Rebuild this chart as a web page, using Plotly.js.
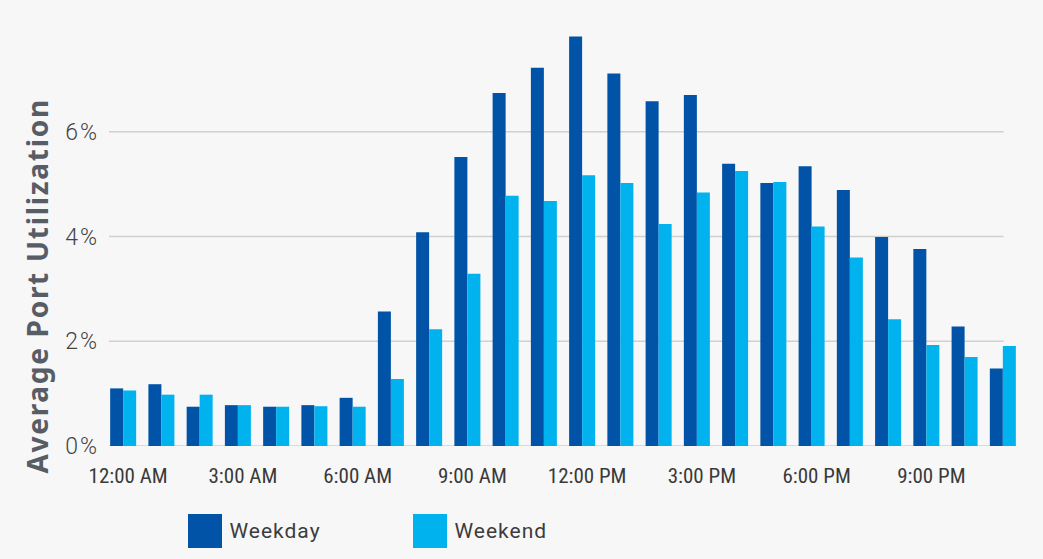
<!DOCTYPE html>
<html>
<head>
<meta charset="utf-8">
<script src="https://cdn.plot.ly/plotly-3.0.1.min.js"></script>
<style>
  html, body { margin: 0; padding: 0; background: #f7f7f7; }
  #chart { width: 1043px; height: 559px; }
</style>
</head>
<body>
<div id="chart"></div>
<script>
// ---- data ----
const hours = [
  "12:00 AM","1:00 AM","2:00 AM","3:00 AM","4:00 AM","5:00 AM",
  "6:00 AM","7:00 AM","8:00 AM","9:00 AM","10:00 AM","11:00 AM",
  "12:00 PM","1:00 PM","2:00 PM","3:00 PM","4:00 PM","5:00 PM",
  "6:00 PM","7:00 PM","8:00 PM","9:00 PM","10:00 PM","11:00 PM"
];
const weekday = [1.10, 1.18, 0.75, 0.78, 0.75, 0.78, 0.92, 2.57, 4.08, 5.52, 6.74, 7.22,
                 7.82, 7.11, 6.58, 6.70, 5.39, 5.02, 5.34, 4.89, 3.99, 3.76, 2.28, 1.48];
const weekend = [1.06, 0.98, 0.98, 0.78, 0.75, 0.76, 0.75, 1.28, 2.23, 3.29, 4.78, 4.68,
                 5.17, 5.02, 4.24, 4.84, 5.25, 5.04, 4.19, 3.60, 2.42, 1.93, 1.70, 1.91];
const xTickLabels = ["12:00 AM","3:00 AM","6:00 AM","9:00 AM","12:00 PM","3:00 PM","6:00 PM","9:00 PM"];
const yTickValues = [0, 2, 4, 6];
const yTickLabels = ["0%", "2%", "4%", "6%"];
const seriesNames = ["Weekday", "Weekend"];
const yTitle = "Average Port Utilization";

// ---- style ----
const C_WEEKDAY = "#0053a6";
const C_WEEKEND = "#00b3ee";
const BG = "#f7f7f7";
const GRID = "#d0d0d0";
const GRID_END = (1003.6 - 109) / (1017 - 109); // gridlines stop at last category centre

const traces = [
  { type: "bar", name: seriesNames[0], x: hours, y: weekday,
    marker: { color: C_WEEKDAY, line: { width: 0 } }, showlegend: false },
  { type: "bar", name: seriesNames[1], x: hours, y: weekend,
    marker: { color: C_WEEKEND, line: { width: 0 } }, showlegend: false }
];

const gridShapes = yTickValues.map(function (v) {
  return { type: "line", xref: "paper", yref: "y", x0: 0, x1: GRID_END, y0: v, y1: v,
           line: { color: GRID, width: 1.5 }, layer: "below" };
});

const pw = 1017 - 109, ph = 446 - 26.8;
function px(x) { return (x - 109) / pw; }
function py(y) { return (446 - y) / ph; }

const legendShapes = [
  { type: "rect", xref: "paper", yref: "paper", x0: px(188), x1: px(222), y0: py(548), y1: py(514),
    fillcolor: C_WEEKDAY, line: { width: 0 } },
  { type: "rect", xref: "paper", yref: "paper", x0: px(413), x1: px(447), y0: py(548), y1: py(514),
    fillcolor: C_WEEKEND, line: { width: 0 } }
];
const textFont = { family: "Roboto", size: 21, color: "#3c3c3c" };
const annotations = [
  { xref: "paper", yref: "paper", x: px(231), y: py(531), xanchor: "left", yanchor: "middle",
    text: seriesNames[0], showarrow: false, font: textFont },
  { xref: "paper", yref: "paper", x: px(456), y: py(531), xanchor: "left", yanchor: "middle",
    text: seriesNames[1], showarrow: false, font: textFont },
  { xref: "paper", yref: "paper", x: px(37), y: py(286), xanchor: "center", yanchor: "middle",
    textangle: -90, text: yTitle, showarrow: false,
    font: { family: "Noto Sans", weight: 700, size: 28, color: "#575d66" } }
];

const layout = {
  width: 1043, height: 559,
  paper_bgcolor: BG, plot_bgcolor: BG,
  margin: { l: 109, r: 1043 - 1017, t: 26.8, b: 113, pad: 0 },
  barmode: "group", bargap: 0.32, bargroupgap: 0,
  showlegend: false,
  xaxis: {
    type: "category",
    range: [-0.37, 23.37],
    tickmode: "array", tickvals: xTickLabels, ticktext: xTickLabels,
    showgrid: false, zeroline: false, showline: false, ticks: "",
    tickfont: { family: "Liberation Sans Narrow, Roboto Condensed, Roboto", size: 21, color: "#3a3a3a" },
    ticklabelstandoff: 15, ticklabelshift: 5
  },
  yaxis: {
    range: [0, 8],
    tickmode: "array", tickvals: yTickValues, ticktext: yTickLabels,
    showgrid: false, zeroline: false, showline: false, ticks: "",
    tickfont: { family: "Roboto", weight: 300, size: 23, color: "#444444" },
    ticklabelstandoff: 9
  },
  shapes: gridShapes.concat(legendShapes),
  annotations: annotations
};

Plotly.newPlot("chart", traces, layout, { displayModeBar: false, staticPlot: true }).then(function () {
  document.querySelectorAll(".annotation-text").forEach(function (t) {
    t.style.letterSpacing = (t.textContent === yTitle) ? "1.7px" : "1px";
  });
  document.querySelectorAll(".ytick text").forEach(function (t) {
    t.style.letterSpacing = "2px";
  });
});
</script>
</body>
</html>
